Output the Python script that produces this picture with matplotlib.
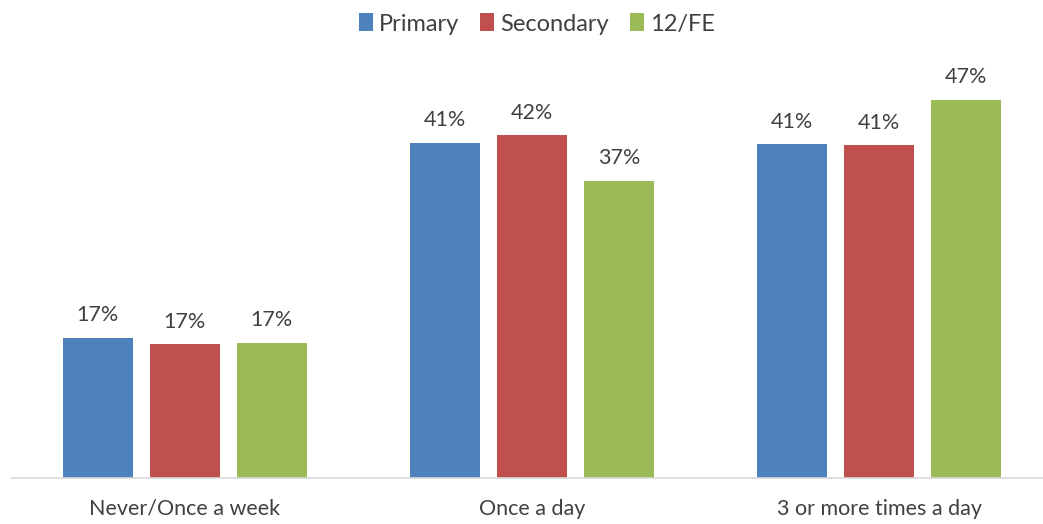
import numpy as np
import matplotlib.pyplot as plt

plt.rcParams['font.family'] = ['Lato', 'DejaVu Sans']

categories = ['Never/Once a week', 'Once a day', '3 or more times a day']
series = ['Primary', 'Secondary', '12/FE']
colors = ['#4f81bd', '#c0504d', '#9bbb59']
# bar heights, labels as printed
values = [[17.3, 41.4, 41.2],
          [16.5, 42.3, 41.1],
          [16.7, 36.7, 46.7]]
labels = [['17%', '41%', '41%'],
          ['17%', '42%', '41%'],
          ['17%', '37%', '47%']]

W, H = 1043, 524
fig = plt.figure(figsize=(W/100, H/100), dpi=100)
ax = fig.add_axes([11/W, (H-478)/H, 1042/W, 405/H])

x = np.arange(len(categories))
bw = 70/347
pitch = 87/347
for i, s in enumerate(series):
    pos = x + (i-1)*pitch
    bars = ax.bar(pos, values[i], width=bw, color=colors[i], label=s, zorder=2)
    for b, lab in zip(bars, labels[i]):
        ax.annotate(lab, (b.get_x()+b.get_width()/2, b.get_height()),
                    xytext=(0, 9), textcoords='offset points',
                    ha='center', va='bottom', fontsize=15.5, color='#404040')

ax.set_xlim(-0.5, 2.5)
ax.set_ylim(0, 50)
ax.set_yticks([])
ax.set_xticks(x)
ax.set_xticklabels(categories, fontsize=15.5, color='#404040')
ax.tick_params(axis='x', length=0, pad=15)
for sp in ['top', 'right', 'left']:
    ax.spines[sp].set_visible(False)
ax.spines['bottom'].set_color('#d9d9d9')
ax.spines['bottom'].set_linewidth(1.2)

fig.legend(loc='upper center', bbox_to_anchor=(537/W, 1.015), ncol=3, frameon=False,
           fontsize=17, handlelength=0.6, handleheight=0.8, handletextpad=0.25,
           columnspacing=0.9, labelcolor='#404040')

fig.savefig('out.png', dpi=100)
